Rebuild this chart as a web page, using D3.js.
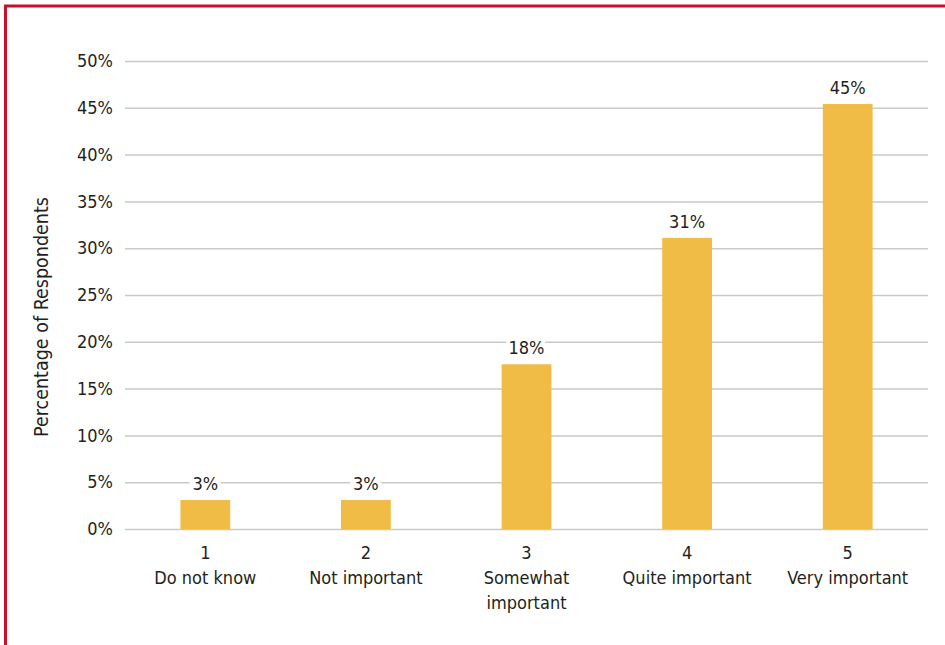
<!DOCTYPE html>
<html>
<head>
<meta charset="utf-8">
<script src="https://cdn.jsdelivr.net/npm/d3@7"></script>
<style>
  body { margin: 0; background: #fff; }
  text { font-family: "Liberation Sans Narrow", "DejaVu Sans Condensed", sans-serif; fill: #231f20; }
</style>
</head>
<body>
<div class="chart"></div>
<script>
// survey bars
var w = 945, h = 645;
var numbers = ["1", "2", "3", "4", "5"];
var categories = ["Do not know", "Not important", "Somewhat important", "Quite important", "Very important"];
var catLines = [["Do not know"], ["Not important"], ["Somewhat", "important"], ["Quite important"], ["Very important"]];
var values = [3.1, 3.1, 17.6, 31.1, 45.4];
var valueLabels = ["3%", "3%", "18%", "31%", "45%"];
var yTicks = [0, 5, 10, 15, 20, 25, 30, 35, 40, 45, 50];

var plotLeft = 125, plotRight = 928, plotTop = 61, plotBottom = 529;

var svg = d3.select(".chart")
    .append("svg")
    .attr("width", w)
    .attr("height", h);

// frame edges (red, left and top)
svg.append("line")
    .attr("x1", 5.5).attr("x2", 5.5).attr("y1", 5).attr("y2", h)
    .attr("stroke", "#c8102e").attr("stroke-width", 3);
svg.append("line")
    .attr("x1", 4).attr("x2", w).attr("y1", 6).attr("y2", 6)
    .attr("stroke", "#c8102e").attr("stroke-width", 3);

var x = d3.scaleBand()
    .domain(categories)
    .range([plotLeft, plotRight])
    .paddingInner(0.69)
    .paddingOuter(0.345);

var y = d3.scaleLinear()
    .domain([0, 50])
    .range([plotBottom, plotTop]);

// grid + y labels
var yAxis = d3.axisLeft(y)
    .tickValues(yTicks)
    .tickSize(-(plotRight - plotLeft))
    .tickPadding(12)
    .tickFormat(function(d) { return d + "%"; });

var gy = svg.append("g")
    .attr("transform", "translate(" + plotLeft + ",0)")
    .call(yAxis);
gy.select(".domain").remove();
gy.selectAll(".tick line")
    .attr("stroke", "#c9c9c9")
    .attr("stroke-width", 1.5);
gy.selectAll(".tick text")
    .style("font-size", "18px")
    .attr("fill", "#231f20");

svg.selectAll(".bar")
    .data(values)
    .enter()
    .append("rect")
    .attr("class", "bar")
    .attr("x", function(d, i) { return x(categories[i]); })
    .attr("width", x.bandwidth())
    .attr("y", function(d) { return y(d); })
    .attr("height", function(d) { return y(0) - y(d); })
    .attr("fill", "#f0bc45");

svg.selectAll(".val")
    .data(values)
    .enter()
    .append("text")
    .attr("class", "val")
    .attr("x", function(d, i) { return x(categories[i]) + x.bandwidth() / 2; })
    .attr("y", function(d) { return y(d) - 10; })
    .attr("text-anchor", "middle")
    .style("font-size", "18px")
    .style("paint-order", "stroke")
    .attr("stroke", "#fff")
    .attr("stroke-width", 8)
    .text(function(d, i) { return valueLabels[i]; });

// category labels
var cat = svg.selectAll(".cat")
    .data(categories)
    .enter()
    .append("text")
    .attr("class", "cat")
    .attr("text-anchor", "middle")
    .attr("transform", function(d) { return "translate(" + (x(d) + x.bandwidth() / 2) + ",559)"; })
    .style("font-size", "18px");

cat.append("tspan")
    .attr("x", 0)
    .attr("y", 0)
    .text(function(d, i) { return numbers[i]; });

cat.each(function(d, i) {
    var t = d3.select(this);
    catLines[i].forEach(function(line, j) {
        t.append("tspan")
            .attr("x", 0)
            .attr("y", 25 * (j + 1))
            .text(line);
    });
});

svg.append("text")
    .attr("transform", "translate(48,317) rotate(-90)")
    .attr("text-anchor", "middle")
    .style("font-size", "19.5px")
    .text("Percentage of Respondents");
</script>
</body>
</html>
